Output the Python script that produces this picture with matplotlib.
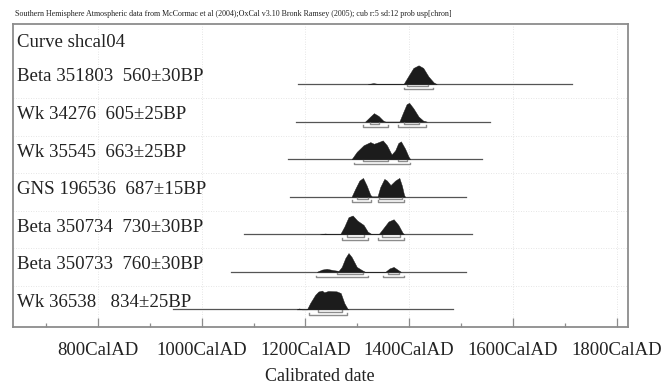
import matplotlib
matplotlib.use("Agg")
import matplotlib.pyplot as plt
import matplotlib.transforms as mtransforms

plt.rcParams['font.family'] = ['Liberation Serif', 'DejaVu Serif']

header = ("Southern Hemisphere Atmospheric data from McCormac et al (2004);"
          "OxCal v3.10 Bronk Ramsey (2005); cub r:5 sd:12 prob usp[chron]")
curve_name = "Curve shcal04"

labels = ["Beta 351803  560\u00b130BP", "Wk 34276  605\u00b125BP", "Wk 35545  663\u00b125BP",
          "GNS 196536  687\u00b115BP", "Beta 350734  730\u00b130BP", "Beta 350733  760\u00b130BP",
          "Wk 36538   834\u00b125BP"]

# extent of the thin line drawn under each distribution (cal AD)
line_start = [1186, 1182, 1166, 1170, 1082, 1056, 945]
line_end = [1713, 1555, 1540, 1509, 1521, 1509, 1484]

# outline of each calibrated probability distribution (year, relative probability)
prob_years = [
    [1320, 1331, 1342, 1389, 1398, 1408, 1418, 1427, 1437, 1447, 1453],
    [1315, 1325, 1332, 1341, 1350, 1354, 1381, 1389, 1395, 1400, 1408, 1418, 1427, 1434],
    [1289, 1299, 1312, 1325, 1332, 1341, 1349, 1357, 1366, 1373, 1379, 1384, 1392, 1399, 1402],
    [1289, 1296, 1304, 1311, 1318, 1325, 1328, 1339, 1344, 1352, 1357, 1364, 1373, 1381, 1386, 1390, 1392],
    [1228, 1238, 1248, 1267, 1275, 1283, 1291, 1300, 1312, 1320, 1328, 1341, 1350, 1360, 1370, 1379, 1387, 1390],
    [1222, 1232, 1241, 1254, 1264, 1270, 1277, 1283, 1289, 1299, 1309, 1315, 1354, 1362, 1370, 1379, 1384],
    [1183, 1188, 1193, 1203, 1209, 1219, 1225, 1232, 1236, 1244, 1260, 1268, 1275, 1281, 1283],
]
prob_heights = [
    [0.0, 0.05, 0.0, 0.0, 0.41, 0.86, 1.0, 0.86, 0.41, 0.09, 0.0],
    [0.0, 0.27, 0.45, 0.30, 0.05, 0.0, 0.0, 0.54, 0.93, 1.0, 0.71, 0.27, 0.05, 0.0],
    [0.0, 0.39, 0.74, 0.91, 0.82, 0.91, 1.0, 0.74, 0.25, 0.47, 0.86, 0.95, 0.56, 0.12, 0.0],
    [0.0, 0.42, 0.86, 1.0, 0.60, 0.10, 0.02, 0.02, 0.50, 0.95, 0.86, 0.62, 0.86, 1.0, 0.58, 0.10, 0.0],
    [0.0, 0.04, 0.0, 0.0, 0.41, 0.91, 1.0, 0.73, 0.50, 0.14, 0.0, 0.0, 0.32, 0.68, 0.80, 0.50, 0.09, 0.0],
    [0.0, 0.12, 0.16, 0.09, 0.05, 0.26, 0.74, 1.0, 0.79, 0.26, 0.09, 0.0, 0.0, 0.18, 0.26, 0.09, 0.0],
    [0.0, 0.05, 0.0, 0.0, 0.33, 0.78, 0.95, 1.0, 0.91, 0.98, 0.96, 0.87, 0.33, 0.04, 0.0],
]

# 68.2% and 95.4% ranges
range68 = [
    [(1395, 1436)],
    [(1325, 1341), (1389, 1418)],
    [(1310, 1360), (1379, 1395)],
    [(1299, 1321), (1341, 1386)],
    [(1280, 1312), (1347, 1382)],
    [(1260, 1310), (1359, 1381)],
    [(1225, 1270)],
]
range95 = [
    [(1389, 1445)],
    [(1310, 1360), (1379, 1432)],
    [(1294, 1402)],
    [(1289, 1326), (1339, 1390)],
    [(1270, 1321), (1339, 1390)],
    [(1221, 1321), (1349, 1390)],
    [(1206, 1280)],
]

major_years = [800, 1000, 1200, 1400, 1600, 1800]
minor_years = [700, 900, 1100, 1300, 1500, 1700]
tick_labels = ["800CalAD", "1000CalAD", "1200CalAD", "1400CalAD", "1600CalAD", "1800CalAD"]

fig = plt.figure(figsize=(6.62, 3.87), dpi=100)
ax = fig.add_axes([0.0192, 0.155, 0.929, 0.783])
ax.set_xlim(636, 1821)
ax.set_ylim(-6.47, 1.6)

peak = 0.5   # height of a full peak in row units
bar1 = 0.06
bar2 = 0.14
cap = 0.04
grey = '#8c8c8c'
left_x = mtransforms.blended_transform_factory(ax.transAxes, ax.transData)

for yr in major_years:
    ax.axvline(yr, color='#dddddd', lw=0.6, ls=(0, (1, 2)), zorder=0)
for i in range(len(labels) - 1):
    ax.axhline(-i - 0.37, color='#dddddd', lw=0.6, ls=(0, (1, 2)), zorder=0)

for i, lab in enumerate(labels):
    base = -i
    ax.plot([line_start[i], line_end[i]], [base, base], color='#555555', lw=0.9, zorder=2)
    ys = [base + h * peak for h in prob_heights[i]]
    ax.fill_between(prob_years[i], base, ys, color='#1c1c1c', lw=0.3, zorder=3)
    for a, b in range68[i]:
        ax.plot([a, a, b, b], [base - bar1 + cap, base - bar1, base - bar1, base - bar1 + cap],
                color=grey, lw=1.0, zorder=2)
    for a, b in range95[i]:
        ax.plot([a, a, b, b], [base - bar2 + cap, base - bar2, base - bar2, base - bar2 + cap],
                color=grey, lw=1.0, zorder=2)
    ax.text(0.007, base + 0.07, lab, transform=left_x,
            fontsize=13.6, va='baseline', ha='left', color='#222222', zorder=4)

ax.text(0.007, 1.12, curve_name, transform=left_x,
        fontsize=13.5, va='center', ha='left', color='#222222')
fig.text(15 / 662, 1 - 14 / 387, header, fontsize=5.75, va='center', ha='left', color='#222222')

ax.set_xticks(major_years)
ax.set_xticklabels(tick_labels)
ax.set_xticks(minor_years, minor=True)
ax.set_yticks([])
ax.tick_params(axis='x', which='major', direction='in', length=6.5, width=0.9, color=grey,
               labelsize=13.5, pad=11, labelcolor='#222222')
ax.tick_params(axis='x', which='minor', direction='in', length=3, width=0.9, color=grey)
ax.set_xlabel("Calibrated date", fontsize=13, labelpad=6, color='#222222')
for s in ax.spines.values():
    s.set_color(grey)
    s.set_linewidth(1.3)

fig.savefig("out.png", dpi=100)
